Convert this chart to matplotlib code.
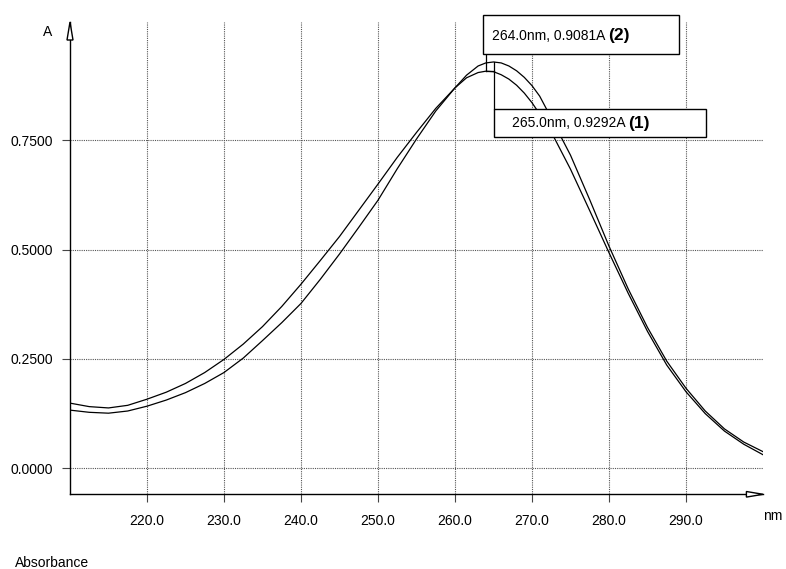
import matplotlib
matplotlib.use('Agg')
import matplotlib.pyplot as plt
from matplotlib.patches import Rectangle, Polygon

plt.rcParams['font.family'] = ['Liberation Sans', 'DejaVu Sans']

# spectrum (1): peak 265.0 nm
wl1 = [210, 212.5, 215, 217.5, 220, 222.5, 225, 227.5, 230, 232.5, 235, 237.5,
       240, 242.5, 245, 247.5, 250, 252.5, 255, 257.5, 260, 261.5, 263, 264,
       265, 266, 267, 268, 269, 270, 271, 272.5, 275, 277.5, 280, 282.5, 285,
       287.5, 290, 292.5, 295, 297.5, 300]
abs1 = [0.133, 0.128, 0.126, 0.131, 0.142, 0.156, 0.173, 0.194, 0.219, 0.252,
        0.292, 0.333, 0.377, 0.432, 0.490, 0.551, 0.613, 0.685, 0.753, 0.817,
        0.870, 0.899, 0.920, 0.927, 0.9292, 0.927, 0.920, 0.909, 0.894, 0.875,
        0.851, 0.801, 0.716, 0.614, 0.508, 0.410, 0.322, 0.245, 0.183, 0.131,
        0.090, 0.060, 0.038]

# spectrum (2): peak 264.0 nm
wl2 = [210, 212.5, 215, 217.5, 220, 222.5, 225, 227.5, 230, 232.5, 235, 237.5,
       240, 242.5, 245, 247.5, 250, 252.5, 255, 257.5, 260, 261.5, 263, 264,
       265, 266, 267, 268, 269, 270, 271, 272.5, 275, 277.5, 280, 282.5, 285,
       287.5, 290, 292.5, 295, 297.5, 300]
abs2 = [0.149, 0.141, 0.138, 0.144, 0.158, 0.174, 0.194, 0.219, 0.249, 0.284,
        0.324, 0.370, 0.421, 0.475, 0.530, 0.590, 0.650, 0.711, 0.768, 0.823,
        0.870, 0.893, 0.905, 0.9081, 0.907, 0.900, 0.890, 0.876, 0.858, 0.836,
        0.810, 0.769, 0.684, 0.589, 0.493, 0.400, 0.313, 0.236, 0.175, 0.125,
        0.085, 0.055, 0.031]

peak1 = (265.0, 0.9292)
peak2 = (264.0, 0.9081)

xticks = [220, 230, 240, 250, 260, 270, 280, 290]
yticks = [0.0, 0.25, 0.5, 0.75]

W, H = 786, 569
fig = plt.figure(figsize=(W / 100, H / 100), dpi=100)
ax = fig.add_axes([70 / W, 1 - 494.3 / H, 693 / W, 472.3 / H])

ax.plot(wl1, abs1, color='black', lw=0.9, zorder=3)
ax.plot(wl2, abs2, color='black', lw=0.9, zorder=3)

ax.set_xlim(210, 300)
ax.set_ylim(-0.0595, 1.0206)
ax.set_xticks(xticks)
ax.set_yticks(yticks)
ax.set_xticklabels(['%.1f' % t for t in xticks])
ax.set_yticklabels(['%.4f' % t for t in yticks])
ax.tick_params(axis='both', direction='out', length=6, width=0.8,
               color='#444444', labelsize=10, pad=6)
ax.tick_params(axis='x', pad=8)
ax.grid(True, color='#555555', linestyle=(0, (1, 1)), linewidth=0.8)
ax.set_axisbelow(True)

for s in ['top', 'right']:
    ax.spines[s].set_visible(False)
for s in ['left', 'bottom']:
    ax.spines[s].set_linewidth(1.0)

# open arrow heads on the axes
aw, ah = 693.0, 472.3
ax.add_patch(Polygon([(0, 1), (-3 / aw, 1 - 18 / ah), (3 / aw, 1 - 18 / ah)],
                     closed=True, transform=ax.transAxes, fc='white', ec='black',
                     lw=1.0, clip_on=False, zorder=5))
ax.add_patch(Polygon([(1, 0), (1 - 16.6 / aw, 2.8 / ah), (1 - 16.6 / aw, -2.8 / ah)],
                     closed=True, transform=ax.transAxes, fc='white', ec='black',
                     lw=1.0, clip_on=False, zorder=5))

# peak markers and label boxes
ax.plot([peak2[0], peak2[0]], [peak2[1], 0.9467], color='black', lw=0.9, zorder=4,
        clip_on=False)
ax.plot([peak2[0], peak1[0]], [peak2[1], peak2[1]], color='black', lw=0.9, zorder=4)
ax.plot([peak1[0], peak1[0]], [peak1[1], 0.821], color='black', lw=0.9, zorder=4)

ax.add_patch(Rectangle((263.67, 0.9467), 289.09 - 263.67, 1.0366 - 0.9467,
                       fc='white', ec='black', lw=1.0, zorder=6, clip_on=False))
ax.add_patch(Rectangle((peak1[0], 0.757), 292.55 - peak1[0], 0.821 - 0.757,
                       fc='white', ec='black', lw=1.0, zorder=6, clip_on=False))

t2 = ax.text(264.77, 0.9893, '%.1fnm, %.4fA ' % peak2, fontsize=10,
             ha='left', va='center', zorder=7, clip_on=False)
ax.annotate('(2)', xy=(1, 0.5), xycoords=t2, ha='left', va='center',
            fontsize=12.5, fontweight='bold', zorder=7, annotation_clip=False)
t1 = ax.text(267.36, 0.789, '%.1fnm, %.4fA ' % peak1, fontsize=10,
             ha='left', va='center', zorder=7)
ax.annotate('(1)', xy=(1, 0.5), xycoords=t1, ha='left', va='center',
            fontsize=12.5, fontweight='bold', zorder=7)

fig.text(47.5 / W, 1 - 31.7 / H, 'A', fontsize=10, ha='center', va='center')
fig.text(773 / W, 1 - 515.7 / H, 'nm', fontsize=10, ha='center', va='center')
fig.text(15 / W, 1 - 562.7 / H, 'Absorbance', fontsize=10, ha='left', va='center')

fig.savefig('out.png', dpi=100)
